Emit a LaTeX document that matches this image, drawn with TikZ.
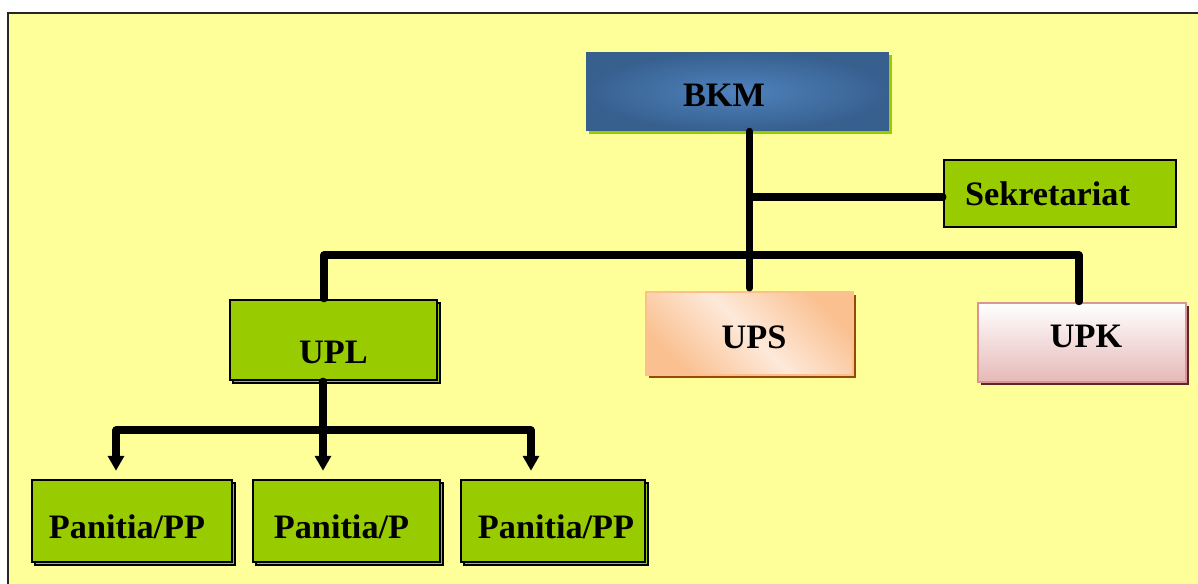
\documentclass[tikz,border=0pt]{standalone}
\usepackage{fontspec}
\setmainfont{Liberation Serif}
\usetikzlibrary{arrows.meta, positioning, shadows, calc}
\definecolor{bgyellow}{HTML}{FFFF99}
\definecolor{orggreen}{HTML}{99CC00}
\definecolor{bkmblue}{HTML}{37608F}
\definecolor{bkmlight}{HTML}{4F82BD}
\definecolor{upsdark}{HTML}{FAC090}
\definecolor{upslight}{HTML}{FDE9D9}
\definecolor{upsshadow}{HTML}{984807}
\definecolor{upkline}{HTML}{D99694}
\definecolor{upkdark}{HTML}{E6B9B8}
\definecolor{upkshadow}{HTML}{632523}

\newcommand{\shiftlabel}[2]{\raisebox{#1}[\height][\depth]{#2}}

\tikzset{
  unit/.style={rectangle, inner sep=0pt, font=\fontsize{19.5}{22}\selectfont\bfseries},
  greenbox/.style={unit, draw=black, line width=1.4pt, fill=orggreen,
    copy shadow={shadow xshift=0.06cm, shadow yshift=-0.06cm}},
  offshadow/.style={general shadow={fill=#1, shadow xshift=0.06cm, shadow yshift=-0.06cm}},
  link/.style={line width=4pt, line cap=round, line join=round},
  tip/.style={-{Triangle[width=9pt, length=8.5pt]}},
}

\begin{document}
\begin{tikzpicture}[x=0.02cm, y=-0.02cm]
  \useasboundingbox (0,0) rectangle (1198,584);
  \begin{scope}
    \clip (0,0) rectangle (1198,584);
    \fill[white] (0,0) rectangle (1198,584);
    \draw[line width=1.5pt, draw=black!85, fill=bgyellow] (8,13) rectangle (1230,610);
  \end{scope}

  % top level
  \node[unit, shading=radial, inner color=bkmlight, outer color=bkmblue, offshadow=orggreen,
    minimum width=6.06cm, minimum height=1.58cm] (bkm) at (737.5,91.5) {\shiftlabel{-0.07cm}{BKM\hspace*{0.54cm}}};
  \node[unit, draw=black, line width=1.2pt, fill=orggreen,
    minimum width=4.64cm, minimum height=1.34cm] (sek) at (1060,193.5) {Sekretariat\hspace*{0.5cm}};

  % units
  \node[greenbox, minimum width=4.14cm, minimum height=1.6cm] (upl) at (333.5,340) {\shiftlabel{-0.24cm}{UPL}};
  \node[unit, draw=upsdark, line width=1.2pt, top color=upsdark, bottom color=upsdark, middle color=upslight,
    shading angle=-45, offshadow=upsshadow,
    minimum width=4.14cm, minimum height=1.66cm] (ups) at (749.5,333.5) {\shiftlabel{-0.07cm}{\hspace*{0.18cm}UPS}};
  \node[unit, draw=upkline, line width=1.5pt, top color=white, bottom color=upkdark, offshadow=upkshadow,
    minimum width=4.16cm, minimum height=1.58cm] (upk) at (1082,342.5) {\shiftlabel{0.13cm}{\hspace*{0.16cm}UPK}};

  % panitia
  \node[greenbox, minimum width=4.0cm, minimum height=1.64cm] (p1) at (132,521) {\shiftlabel{-0.12cm}{Panitia/PP\hspace*{0.2cm}}};
  \node[greenbox, minimum width=3.74cm, minimum height=1.64cm] (p2) at (346.5,521) {\shiftlabel{-0.12cm}{Panitia/P\hspace*{0.2cm}}};
  \node[greenbox, minimum width=3.68cm, minimum height=1.64cm] (p3) at (553,521) {\shiftlabel{-0.12cm}{\hspace*{0.12cm}Panitia/PP}};

  % connectors
  \coordinate (busL) at (324,255);
  \coordinate (busR) at (1079,255);
  \coordinate (lowbus) at (323,430);
  \coordinate (arrL) at (116,430);
  \coordinate (arrR) at (531,430);

  \draw[link] (ups.north |- bkm.south) -- ($(ups.north)+(0,-3)$);
  \draw[link] ($(ups.north |- sek.west)+(0,3.5)$) -- ($(sek.west)+(0,3.5)$);
  \draw[link] (busL |- upl.north) -- (busL) -- (busR) -- (busR |- upk.north);
  \draw[link] (lowbus |- upl.south) -- (lowbus);
  \draw[link] (arrL) -- (arrR);
  \draw[link, tip] (arrL) -- ($(arrL |- p1.north)+(0,-8)$);
  \draw[link, tip] (lowbus) -- ($(lowbus |- p2.north)+(0,-8)$);
  \draw[link, tip] (arrR) -- ($(arrR |- p3.north)+(0,-8)$);
\end{tikzpicture}
\end{document}
